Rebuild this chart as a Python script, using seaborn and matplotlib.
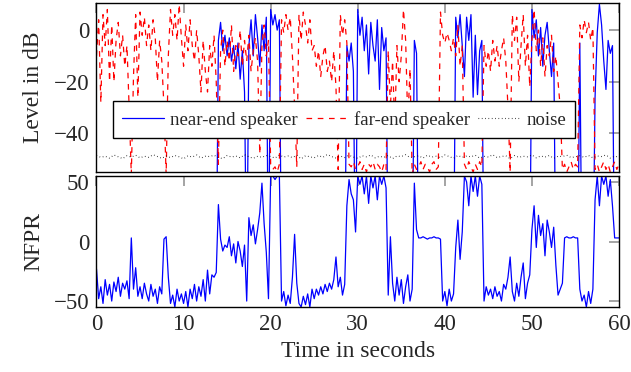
"""Near-end / far-end levels and NFPR over time."""
import numpy as np
import pandas as pd
import seaborn as sns
import matplotlib
matplotlib.use("Agg")
import matplotlib.pyplot as plt

STEP = 0.25  # seconds between samples

# levels in dB, one value every 0.25 s (silence of the near end sits far below the axis)
near_end = [
    -99, -99, -99, -99, -99, -99, -99, -99, -99, -99, -99, -99, -99, -99, -99, -99, -99, -99, -99, -99,
    -99, -99, -99, -99, -99, -99, -99, -99, -99, -99, -99, -99, -99, -99, -99, -99, -99, -99, -99, -99,
    -99, -99, -99, -99, -99, -99, -99, -99, -99, -99, -99, -99, -99, -99, -99, -99, -4, 3, -8, -2,
    -10, -3, -12, -6, -15, -5, -19, -8, -24, -99, -6, 4, -10, 6, -3, -14, 2, -8, 5, -99,
    8, 2, 6, 0, 4, -99, -99, -99, -99, -99, -99, -99, -99, -99, -99, -99, -99, -99, -99, -99,
    -99, -99, -99, -99, -99, -99, -99, -99, -99, -99, -99, -99, -99, -99, -99, -6, -12, -5, -16, -99,
    8, -2, 5, -8, 2, -17, 3, -6, -12, 4, -23, 1, -8, -3, -99, -99, -99, -99, -99, -99,
    -99, -99, -99, -99, -99, -99, -4, -9, -99, -99, -99, -99, -99, -99, -99, -99, -99, -99, -99, -99,
    -99, -99, -99, -99, -99, 5, -3, 6, -6, -18, 5, -4, 6, -26, -2, -25, -8, -4, -99, -99,
    -99, -99, -99, -99, -99, -99, -99, -99, -99, -99, -99, -99, -99, -99, -99, -99, -99, -99, -99, -99,
    8, -3, 4, -10, 1, -14, -2, 3, -8, -18, -5, -99, -99, -99, -99, -99, -99, -99, -99, -99,
    -99, -99, -5, -99, -99, -99, -99, -99, -99, -26, -1, 10, 2, -12, -23, -4, -9, -6, -99, -99,
    -99,
]

far_end = [
    -10, 4, -28, 6, -6, 8, -20, 2, -20, -4, 3, -10, -2, -14, -6, -30, -56, -18, 6, -26,
    7, -2, 5, -6, 2, -8, 4, -3, -20, -4, -12, -30, -56, -10, 8, -2, 6, -4, 10, -3,
    -14, 2, -8, 4, -6, -12, 0, -10, -24, -4, -16, -24, -6, -14, -2, -20, -52, -8, 0, -14,
    -4, -12, 2, -16, -6, -10, 0, -14, -4, -12, -2, -16, -8, -3, -12, -48, -6, 2, -10, -4,
    -52, -54, -53, -55, -52, 4, -1, 6, 0, 5, -10, -30, -53, 6, -4, 7, 2, -5, 4, -8,
    -6, -14, -8, -18, -10, -6, -16, -12, -20, -8, -22, -54, 6, -2, 4, -5, -52, -53, -51, -54,
    -53, -51, -54, -52, -55, -52, -53, -51, -54, -52, -53, -55, -52, -54, -8, -30, -12, -38, -6, -20,
    -10, 8, -4, -36, -15, -56, -52, -54, -53, -51, -54, -52, -53, -55, -52, -51, -54, -53, 7, -2,
    -5, -1, -4, -8, -3, -10, 2, -14, -6, -52, -54, -51, -53, -55, -52, -54, -51, -53, -6, -14,
    -8, -16, -4, -12, -6, -14, -8, -3, -12, -30, -55, 6, -4, 5, -20, -6, 6, -14, -2, -22,
    -4, 8, -8, 0, -14, -3, -18, -6, -10, -2, -16, -10, -20, -30, -54, -52, -55, -53, -51, -54,
    -52, -53, 2, -3, 4, -1, 3, -4, 1, -54, -52, -55, -53, -51, -54, -52, -55, -53, -51, -54,
    -52,
]

# noise floor, one value every 0.5 s
noise = [
    -48.6, -49.3, -48.9, -49.6, -48.4, -49.1, -49.8, -48.7, -49.2, -48.5, -49.5, -48.9, -49.3, -48.3, -49.0, -49.7,
    -48.8, -49.4, -48.6, -49.1, -49.9, -48.7, -49.2, -48.4, -49.6, -48.9, -49.0, -48.5, -49.4, -49.8, -48.6, -49.2,
    -48.8, -49.5, -48.3, -49.1, -49.7, -48.9, -49.3, -48.6, -49.0, -49.6, -48.4, -49.2, -48.8, -49.4, -48.5, -49.9,
    -48.7, -49.1, -49.5, -48.6, -49.3, -48.2, -49.0, -49.6, -48.8, -49.4, -48.5, -49.2, -49.7, -48.7, -49.1, -48.4,
    -49.5, -48.9, -49.3, -48.6, -49.8, -48.8, -49.0, -48.3, -49.4, -49.1, -48.7, -49.6, -48.5, -49.2, -48.9, -49.5,
    -48.4, -49.0, -49.7, -48.6, -49.3, -48.8, -49.1, -48.5, -49.6, -48.9, -49.2, -48.3, -49.4, -49.0, -48.7, -49.8,
    -48.6, -49.3, -48.9, -49.1, -48.4, -49.5, -48.8, -49.2, -48.6, -49.7, -48.9, -49.0, -48.5, -49.4, -49.1, -48.7,
    -49.3, -48.6, -49.5, -48.8, -49.0, -48.4, -49.6, -48.9, -49.2,
]

# near-to-far power ratio, one value every 0.25 s
nfpr = [
    -23, -48, -38, -52, -32, -45, -36, -50, -34, -42, -30, -46, -35, -40, -33, -48, 3, -40, -22, -46,
    -38, -48, -35, -44, -50, -36, -46, -40, -52, -38, -44, 2, 4, -30, -52, -45, -55, -40, -50, -44,
    -52, -42, -55, -40, -48, -36, -50, -38, -46, -32, -50, -24, -44, -28, -30, -26, 31, 2, -8, -3,
    -5, 4, -12, -2, -18, 0, -8, -21, -3, -50, 20, 5, 14, -2, 10, 24, 49, 15, -9, -48,
    55, 55, 52, 55, 55, -50, -42, -54, -45, -52, -30, 6, -35, -52, -55, -46, -53, -44, -55, -40,
    -48, -40, -45, -38, -44, -36, -42, -35, -40, -32, -13, -38, -30, -45, -36, 30, 52, 40, 35, 8,
    55, 48, 55, 40, 55, 32, 55, 45, 55, 35, 55, 48, 55, 45, -45, 4, -35, -50, -30, -45,
    -32, -52, -38, -28, -50, -40, 49, 10, 3, 3, 4, 3, 2, 3, 3, 4, 3, 3, 2, -50,
    -42, -54, -40, -50, -44, -5, 18, -15, 8, 55, 50, 30, 55, 42, 55, 38, 55, 48, -50, -38,
    -45, -40, -48, -38, -46, -42, -50, -36, -40, -30, -13, -42, -50, -35, -46, -30, -18, -48, -35, -28,
    10, 30, -5, 22, 5, 15, -12, 18, 8, -5, 12, -20, -45, -40, -35, 3, 4, 3, 3, 4,
    3, 3, -40, -50, -45, -55, -42, -52, -40, 35, 55, 30, 55, 48, 55, 38, 52, 30, 3, 3,
    3,
]

levels = pd.DataFrame({
    "t": np.arange(len(near_end)) * STEP,
    "near": near_end,
    "far": far_end,
    "nfpr": nfpr,
})
floor = pd.DataFrame({"t": np.arange(len(noise)) * 0.5, "noise": noise})

sns.set_style("white")
plt.rcParams["font.family"] = ["Liberation Serif", "DejaVu Serif"]

fig = plt.figure(figsize=(6.31, 3.72), dpi=100)
ax1 = fig.add_axes([0.1529, 0.5376, 0.8281, 0.4543])
ax2 = fig.add_axes([0.1529, 0.1747, 0.8281, 0.3522])

sns.lineplot(data=levels, x="t", y="near", ax=ax1, color="#0000ff", lw=0.9,
             estimator=None, sort=False, label="near-end speaker")
sns.lineplot(data=levels, x="t", y="far", ax=ax1, color="#ff0000", lw=0.9,
             estimator=None, sort=False, label="far-end speaker")
ax1.lines[-1].set_linestyle((0, (4.5, 4.5)))
sns.lineplot(data=floor, x="t", y="noise", ax=ax1, color="black", lw=0.8,
             estimator=None, sort=False, label="noise")
ax1.lines[-1].set_linestyle((0, (0.6, 2.4)))

sns.lineplot(data=levels, x="t", y="nfpr", ax=ax2, color="#0000ff", lw=0.9,
             estimator=None, sort=False, legend=False)

ax1.set_xlim(0, 60)
ax1.set_ylim(-55, 10.5)
ax1.set_yticks([-40, -20, 0])
ax1.set_xticks(range(0, 61, 10))
ax1.set_xticklabels([])
ax1.set_xlabel("")
ax1.set_ylabel("Level in dB", fontsize=17)

ax2.set_xlim(0, 60)
ax2.set_ylim(-55, 55)
ax2.set_yticks([-50, 0, 50])
ax2.set_xticks(range(0, 61, 10))
ax2.set_xlabel("Time in seconds", fontsize=17)
ax2.set_ylabel("NFPR", fontsize=17)

for ax in (ax1, ax2):
    ax.tick_params(direction="in", length=7, width=1.1, color="0.55",
                   top=True, right=True, labelsize=16.5, pad=5)
    for sp in ax.spines.values():
        sp.set_color("black")
        sp.set_linewidth(1.0)
    ax.yaxis.set_label_coords(-0.10, 0.5)

leg = ax1.legend(loc="center", bbox_to_anchor=(0.474, 0.31), ncol=3,
                 fontsize=13.5, frameon=True, fancybox=False, framealpha=1,
                 edgecolor="black", handlelength=2.2, columnspacing=0.45,
                 borderpad=0.5, handletextpad=0.35)
leg.get_frame().set_linewidth(1.0)

fig.savefig("out.png", dpi=100)
